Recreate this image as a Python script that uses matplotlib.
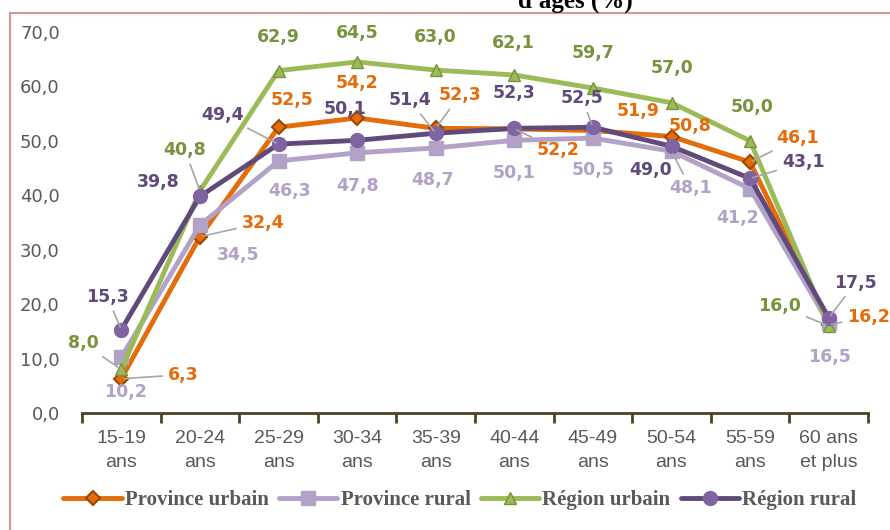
import matplotlib.pyplot as plt
from matplotlib.lines import Line2D

# Data
ages = ["15-19\nans", "20-24\nans", "25-29\nans", "30-34\nans", "35-39\nans",
        "40-44\nans", "45-49\nans", "50-54\nans", "55-59\nans", "60 ans\net plus"]
province_urbain = [6.3, 32.4, 52.5, 54.2, 52.3, 52.2, 51.9, 50.8, 46.1, 16.2]
province_rural = [10.2, 34.5, 46.3, 47.8, 48.7, 50.1, 50.5, 48.1, 41.2, 16.5]
region_urbain = [8.0, 40.8, 62.9, 64.5, 63.0, 62.1, 59.7, 57.0, 50.0, 16.0]
region_rural = [15.3, 39.8, 49.4, 50.1, 51.4, 52.3, 52.5, 49.0, 43.1, 17.5]
names = ["Province urbain", "Province rural", "Région urbain", "Région rural"]

# label offsets in pixels (dx, dy) and which labels get a leader line
off_pu = [(62, 4), (63, 14), (14, 27), (0, 35), (24, 33), (44, -21), (45, 20), (19, 11), (48, 24), (40, 8)]
off_pr = [(4, -35), (38, -30), (11, -30), (0, -33), (-3, -32), (0, -33), (0, -32), (19, -37), (-12, -29), (1, -34)]
off_ru = [(-38, 26), (-15, 41), (0, 34), (0, 29), (0, 33), (-1, 32), (0, 35), (0, 35), (2, 34), (-49, 20)]
off_rr = [(-14, 33), (-42, 14), (-56, 29), (-12, 31), (-26, 33), (0, 35), (-11, 29), (-21, -24), (53, 16), (27, 35)]
lead_pu = [0, 1, 4, 5, 8, 9]
lead_pr = [7]
lead_ru = [0, 1, 9]
lead_rr = [0, 2, 4, 6, 8, 9]

fig = plt.figure(figsize=(8.9, 5.3), dpi=100)
ax = fig.add_axes([82 / 890, 1 - 413 / 530, (868 - 82) / 890, (413 - 32) / 530])

x = list(range(len(ages)))
series = [
    (province_urbain, dict(color="#E46C0A", marker="D", ms=7, mfc="#E46C0A", mec="#984807", mew=1.5), "#E46C0A", off_pu, lead_pu),
    (province_rural, dict(color="#B3A2C7", marker="s", ms=10, mfc="#B3A2C7", mec="#B3A2C7"), "#B3A2C7", off_pr, lead_pr),
    (region_urbain, dict(color="#9BBB59", marker="^", ms=8, mfc="#9BBB59", mec="#77933C"), "#77933C", off_ru, lead_ru),
    (region_rural, dict(color="#604A7B", marker="o", ms=10, mfc="#8064A2", mec="#8064A2"), "#604A7B", off_rr, lead_rr),
]

for (vals, style, tcol, offs, leads), name in zip(series, names):
    ax.plot(x, vals, lw=3.5, label=name, solid_capstyle="round", **style)
    for i, v in enumerate(vals):
        arrow = None
        if i in leads:
            arrow = dict(arrowstyle="-", color="#A6A6A6", lw=1.2, shrinkA=2, shrinkB=2)
        ax.annotate(f"{v:.1f}".replace(".", ","), (i, v), xytext=offs[i],
                    textcoords="offset pixels", ha="center", va="center",
                    fontsize=12.5, fontweight="bold", color=tcol,
                    arrowprops=arrow, zorder=5)

ax.set_xlim(-0.5, len(ages) - 0.5)
ax.set_ylim(0, 70)
ax.set_yticks(range(0, 71, 10))
ax.set_yticklabels([f"{t:.1f}".replace(".", ",") for t in range(0, 71, 10)],
                   fontsize=13, color="#595959")
ax.tick_params(axis="y", length=0, pad=16)

ax.set_xticks([i - 0.5 for i in range(len(ages) + 1)])
ax.set_xticklabels([])
ax.set_xticks(x, minor=True)
ax.set_xticklabels(ages, minor=True, fontsize=14, color="#595959",
                   family="Liberation Sans", linespacing=1.55)
ax.tick_params(axis="x", which="major", length=7, width=2, color="#4B4328", direction="out")
ax.tick_params(axis="x", which="minor", length=0, pad=12)

for s in ["top", "right", "left"]:
    ax.spines[s].set_visible(False)
ax.spines["bottom"].set_color("#4B4328")
ax.spines["bottom"].set_linewidth(2)

leg = fig.legend(loc="center", bbox_to_anchor=(460 / 890, 1 - 500 / 530), ncol=4,
                 frameon=False, handlelength=2.8, handletextpad=0.15, columnspacing=0.5,
                 prop=dict(family="Liberation Serif", weight="bold", size=15))
for t in leg.get_texts():
    t.set_color("#595959")

fig.text(575 / 890, 1 - 8 / 530, "d'âges (%)", ha="center", va="baseline",
         fontsize=18, fontweight="bold", family="Liberation Serif", color="black")

# outer frame
fig.add_artist(Line2D([10 / 890, 10 / 890], [0, 1 - 13 / 530], color="#D99694", lw=1.5))
fig.add_artist(Line2D([10 / 890, 1], [1 - 13 / 530, 1 - 13 / 530], color="#D99694", lw=1.5))

fig.savefig("out.png", dpi=100)
